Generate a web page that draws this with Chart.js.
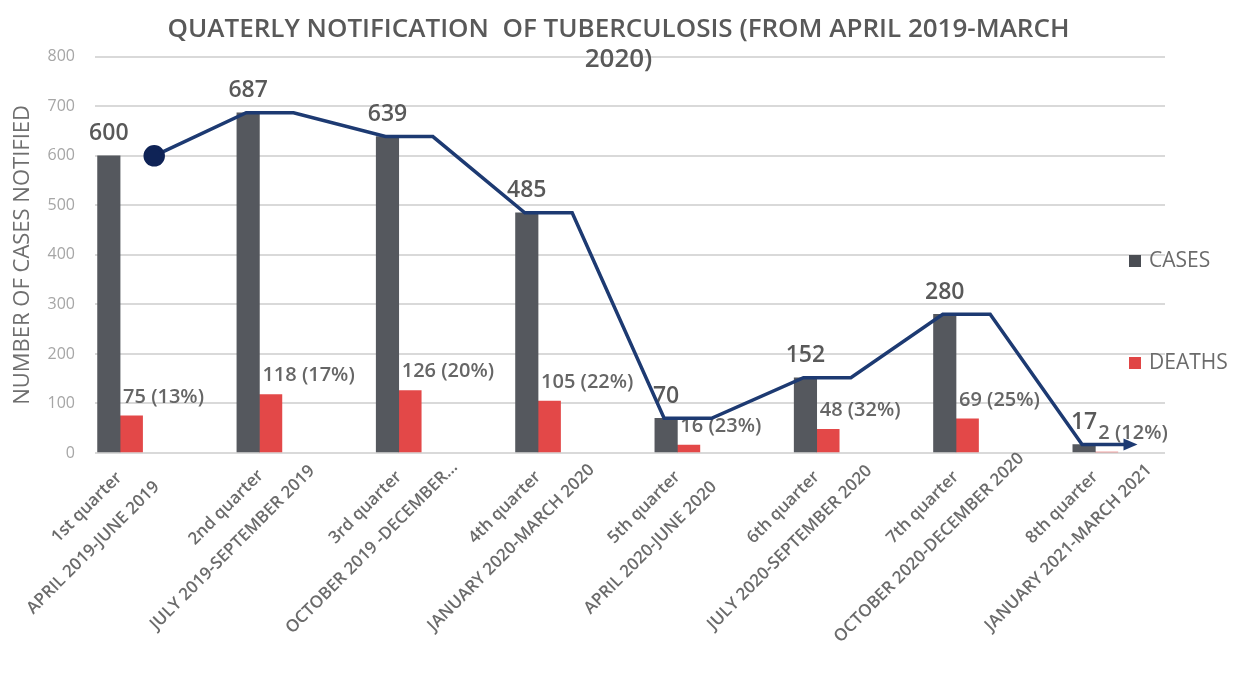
<!DOCTYPE html>
<html>
<head>
<meta charset="utf-8">
<title>Quarterly notification of tuberculosis</title>
<script src="https://cdn.jsdelivr.net/npm/chart.js@4.4.1/dist/chart.umd.min.js"></script>
<style>
    html, body { margin: 0; padding: 0; background: #ffffff; }
    #chart_wrap { position: relative; width: 1237px; height: 679px; }
</style>
</head>
<body>
<div id="chart_wrap"><canvas id="tb_chart"></canvas></div>
<script>
// categories (two lines per axis label)
const quarter_labels = ['1st quarter', '2nd quarter', '3rd quarter', '4th quarter',
    '5th quarter', '6th quarter', '7th quarter', '8th quarter'];
const period_labels = ['APRIL 2019-JUNE 2019', 'JULY 2019-SEPTEMBER 2019', 'OCTOBER 2019 -DECEMBER…',
    'JANUARY 2020-MARCH 2020', 'APRIL 2020-JUNE 2020', 'JULY 2020-SEPTEMBER 2020',
    'OCTOBER 2020-DECEMBER 2020', 'JANUARY 2021-MARCH 2021'];
// series values
const cases_values = [600, 687, 639, 485, 70, 152, 280, 17];
const deaths_values = [75, 118, 126, 105, 16, 48, 69, 2];
const deaths_percent = ['13%', '17%', '20%', '22%', '23%', '32%', '25%', '12%'];
// y axis ticks
const y_ticks = [0, 100, 200, 300, 400, 500, 600, 700, 800];

const FONT = '"Open Sans", "DejaVu Sans", sans-serif';

// trend line follows the cases values: a short flat run at each quarter
function buildTrendPoints(values) {
    const run_start = -0.095;
    const run_end = 0.245;
    let points = [];
    values.forEach(function(v, i) {
        if (i > 0) points.push({ x: i + run_start, y: v });
        points.push({ x: i + run_end, y: v });
    });
    return points;
}

// values above the bars, arrow head at the end of the trend line
const labels_plugin = {
    id: 'barLabels',
    afterDatasetDraw(chart, args) {
        const ds = chart.data.datasets[args.index];
        const c = chart.ctx;
        c.save();
        if (ds.label === 'CASES') {
            c.font = '600 23px ' + FONT;
            c.fillStyle = '#595959';
            c.textAlign = 'center';
            c.textBaseline = 'middle';
            args.meta.data.forEach(function(bar, i) {
                c.fillText(String(cases_values[i]), bar.x, bar.y - 22);
            });
        } else if (ds.label === 'DEATHS') {
            c.font = '600 20px ' + FONT;
            c.fillStyle = '#666666';
            c.textAlign = 'left';
            c.textBaseline = 'middle';
            args.meta.data.forEach(function(bar, i) {
                c.fillText(deaths_values[i] + ' (' + deaths_percent[i] + ')', bar.x - bar.width / 2 + 3, bar.y - 19);
            });
        } else if (ds.type === 'line') {
            const pts = args.meta.data;
            const tip = pts[pts.length - 1];
            c.fillStyle = ds.borderColor;
            c.beginPath();
            c.moveTo(tip.x + 8, tip.y);
            c.lineTo(tip.x - 6, tip.y - 6);
            c.lineTo(tip.x - 6, tip.y + 6);
            c.closePath();
            c.fill();
        }
        c.restore();
    },
    afterDraw(chart) {
        const c = chart.ctx;
        // rotated two-line category labels, lines centred like the original
        const xs = chart.scales.x;
        const base_y = chart.chartArea.bottom;
        c.save();
        c.font = '600 17px ' + FONT;
        c.fillStyle = '#6b6b6b';
        c.textAlign = 'center';
        c.textBaseline = 'middle';
        quarter_labels.forEach(function(q, i) {
            c.save();
            c.translate(xs.getPixelForValue(i), base_y);
            c.rotate(-Math.PI / 4);
            c.fillText(q, -62, 15);
            c.fillText(period_labels[i], -86, 48);
            c.restore();
        });
        c.restore();

        // legend on the right side
        const rows = [{ label: 'CASES', color: '#4a4d53', y: 261 }, { label: 'DEATHS', color: '#e04545', y: 363 }];
        c.save();
        c.font = '21px ' + FONT;
        c.textBaseline = 'middle';
        c.textAlign = 'left';
        rows.forEach(function(r) {
            c.fillStyle = r.color;
            c.fillRect(1129, r.y - 6, 12, 12);
            c.fillStyle = '#6b6b6b';
            c.fillText(r.label, 1149, r.y);
        });
        c.restore();
    }
};

function createChart() {
    const ctx = document.getElementById('tb_chart').getContext('2d');
    new Chart(ctx, {
        type: 'bar',
        data: {
            datasets: [
                {
                    type: 'bar',
                    label: 'CASES',
                    data: cases_values.map(function(v, i) { return { x: i, y: v }; }),
                    backgroundColor: '#55585e',
                    barThickness: 22.5,
                    order: 1
                },
                {
                    type: 'bar',
                    label: 'DEATHS',
                    data: deaths_values.map(function(v, i) { return { x: i, y: v }; }),
                    backgroundColor: '#e34848',
                    barThickness: 22.5,
                    order: 1
                },
                {
                    type: 'line',
                    label: 'trend',
                    data: buildTrendPoints(cases_values),
                    borderColor: '#1d3a72',
                    borderWidth: 3.5,
                    tension: 0,
                    fill: false,
                    pointRadius: function(c) { return c.dataIndex === 0 ? 9 : 0; },
                    pointBackgroundColor: '#0f2356',
                    pointBorderColor: '#0f2356',
                    order: 0
                }
            ]
        },
        options: {
            responsive: true,
            maintainAspectRatio: false,
            animation: false,
            layout: { padding: 0 },
            plugins: {
                legend: { display: false },
                tooltip: { enabled: false },
                title: {
                    display: true,
                    text: ['QUATERLY NOTIFICATION  OF TUBERCULOSIS (FROM APRIL 2019-MARCH', '2020)'],
                    color: '#595959',
                    font: { family: FONT, size: 26, weight: '600', lineHeight: 1.15 },
                    padding: { top: 15, bottom: -18 }
                }
            },
            scales: {
                x: {
                    type: 'linear',
                    offset: false,
                    min: -0.18,
                    max: 7.5,
                    grid: { display: false },
                    border: { display: false },
                    ticks: { display: false },
                    afterFit: function(scale) {
                        scale.height = 226;
                        scale.paddingLeft = 0;
                        scale.paddingRight = 0;
                    }
                },
                y: {
                    min: y_ticks[0],
                    max: y_ticks[y_ticks.length - 1],
                    afterFit: function(scale) { scale.width = 95; },
                    grid: { color: '#d9d9d9', lineWidth: 2, drawTicks: false },
                    border: { display: false },
                    ticks: {
                        stepSize: y_ticks[1] - y_ticks[0],
                        padding: 20,
                        color: '#a6a6a6',
                        font: { family: FONT, size: 16 }
                    },
                    title: {
                        display: true,
                        text: 'NUMBER OF CASES NOTIFIED',
                        color: '#6f6f6f',
                        font: { family: FONT, size: 22 },
                        padding: { top: 10, bottom: 0 }
                    }
                },
                // empty right-hand strip where the legend sits
                legend_space: {
                    type: 'linear',
                    position: 'right',
                    grid: { display: false },
                    border: { display: false },
                    ticks: { display: false },
                    afterFit: function(scale) { scale.width = 72; }
                }
            }
        },
        plugins: [labels_plugin]
    });
}

createChart();
</script>
</body>
</html>
